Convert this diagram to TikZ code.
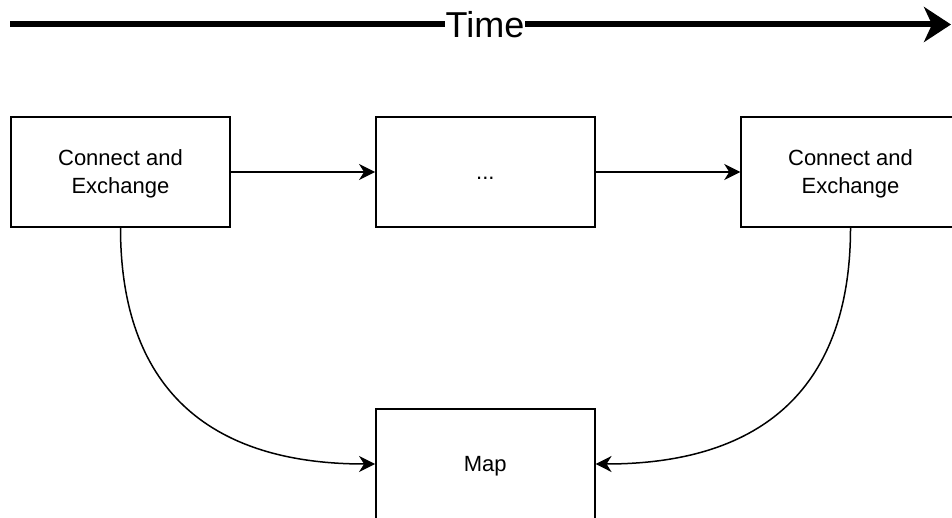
\documentclass[tikz,border=0pt]{standalone}
\usepackage{fontspec}
\setmainfont{Liberation Sans}
\usetikzlibrary{arrows.meta}
% one label line: 26.4pt tall, baseline 20.8pt below its top
\newcommand{\lblstrut}{\vrule height 20.8pt depth 5.6pt width 0pt}
\begin{document}
\begin{tikzpicture}[x=1pt,y=-1pt,
  box/.style={draw=black, line width=1.5pt, fill=white,
    minimum width=219pt, minimum height=110pt, inner sep=0pt,
    align=center, font=\fontsize{22}{26.4}\selectfont},
  link/.style={draw=black, line width=1.5pt,
    -{Stealth[length=16pt, width=16pt, inset=5pt]}},
  timeline/.style={draw=black, line width=6pt,
    -{Stealth[length=27pt, width=35pt, inset=8pt]}}]
  % canvas: clip to the page, boxes may run past its edges
  \clip (0,0) rectangle (952,518);
  \fill[white] (0,0) rectangle (952,518);

  % time axis
  \coordinate (t0) at (10,24.5);
  \coordinate (t1) at (951,24.5);
  \draw[timeline] (t0) -- (t1);
  \node[fill=white, inner xsep=1pt, inner ysep=3pt, anchor=base,
        font=\fontsize{36}{40}\selectfont] (time) at (485,37.3) {Time};

  % steps
  \node[box] (first) at (120.5,172) {\lblstrut Connect and\\\lblstrut Exchange};
  \node[box] (mid)   at (485.3,172) {\lblstrut ...};
  \node[box] (last)  at (850.5,172) {\lblstrut Connect and\\\lblstrut Exchange};
  \node[box] (map)   at (485.3,464) {\lblstrut Map};

  % sequence
  \draw[link] (first) -- (mid);
  \draw[link] (mid) -- (last);

  % results gathered into the map
  \draw[link] (first.south) .. controls +(0,158) and +(-169,0) .. (map.west);
  \draw[link] (last.south) .. controls +(0,158) and +(169,0) .. (map.east);
\end{tikzpicture}
\end{document}
